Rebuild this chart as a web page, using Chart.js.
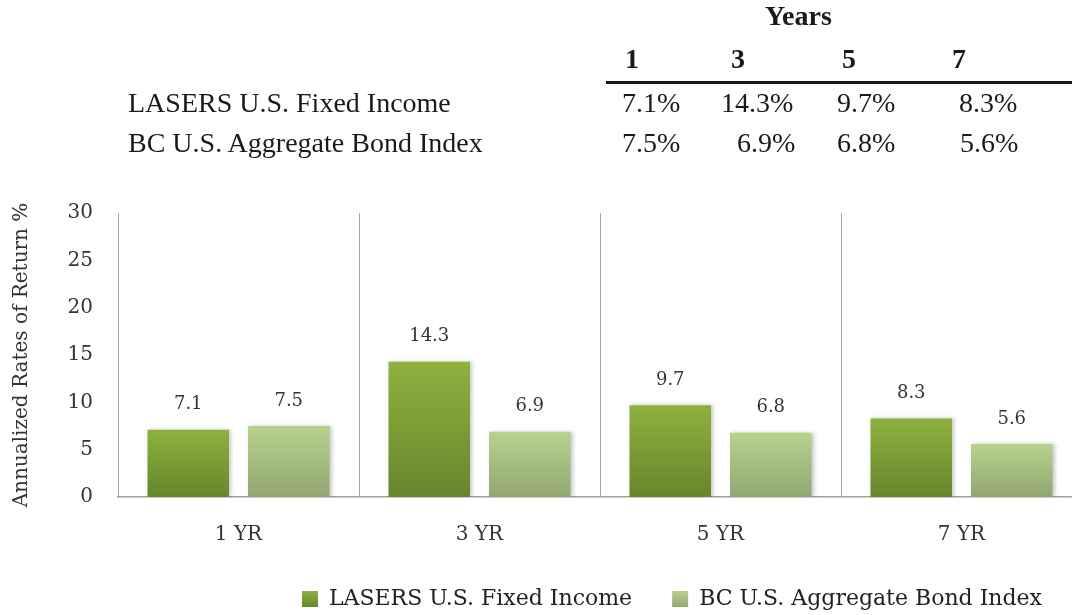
<!DOCTYPE html>
<html>
<head>
<meta charset="utf-8">
<script src="https://cdn.jsdelivr.net/npm/chart.js@4.4.1/dist/chart.umd.min.js"></script>
<style>
  html, body { margin: 0; padding: 0; background: #fff; overflow: hidden; width: 1072px; height: 615px; }
  #wrap { position: absolute; left: 0; top: 0; width: 1082px; height: 620px; }
  #tbl { position: absolute; left: 0; top: 0; width: 1072px; height: 180px; font-family: "Liberation Serif", serif; font-size: 28px; color: #1a1a1a; }
  #tbl .t { position: absolute; line-height: 28px; white-space: nowrap; }
  #tbl .b { font-weight: bold; }
  #rule { position: absolute; left: 606px; top: 81px; width: 466px; height: 3px; background: #1a1a1a; }
</style>
</head>
<body>
<div id="wrap"><canvas id="c" width="1082" height="620"></canvas></div>
<div id="tbl"><div id="rule"></div></div>
<script>
// ---- data ----
const categories = ['1 YR', '3 YR', '5 YR', '7 YR'];
const seriesNames = ['LASERS U.S. Fixed Income', 'BC U.S. Aggregate Bond Index'];
const lasersValues = [7.1, 14.3, 9.7, 8.3];
const bcValues = [7.5, 6.9, 6.8, 5.6];
const tableTitle = 'Years';
const tableYears = ['1', '3', '5', '7'];
const yTicks = [0, 5, 10, 15, 20, 25, 30];
const yTitle = 'Annualized Rates of Return %';

// ---- table (text) ----
const tbl = document.getElementById('tbl');
function addText(txt, left, top, bold) {
  const d = document.createElement('div');
  d.className = 't' + (bold ? ' b' : '');
  d.textContent = txt;
  d.style.left = left + 'px';
  d.style.top = top + 'px';
  tbl.appendChild(d);
}
addText(tableTitle, 765, 2, true);
const yearLeft = [625, 731, 842, 952];
tableYears.forEach((y, i) => addText(y, yearLeft[i], 45, true));
addText(seriesNames[0], 128, 89, false);
addText(seriesNames[1], 128, 129, false);
const row1Left = [622, 721, 837, 959];
const row2Left = [622, 737, 837, 960];
lasersValues.forEach((v, i) => addText(v.toFixed(1) + '%', row1Left[i], 89, false));
bcValues.forEach((v, i) => addText(v.toFixed(1) + '%', row2Left[i], 129, false));

// ---- chart ----
const palette = [
  { top: '#8DB23F', bottom: '#66862C', solid: '#7A9C35' },
  { top: '#B8D28D', bottom: '#91A672', solid: '#A6BD80' }
];

function grad(p) {
  return (ctx) => {
    const ch = ctx.chart;
    if (ctx.type !== 'data' || !ch.chartArea || !ch.scales.y) return p.solid;
    const y = ch.scales.y;
    const yt = y.getPixelForValue(ctx.raw);
    const yb = y.getPixelForValue(0);
    if (!isFinite(yt) || !isFinite(yb) || yt === yb) return p.solid;
    const g = ch.ctx.createLinearGradient(0, yt, 0, yb);
    g.addColorStop(0, p.top);
    g.addColorStop(1, p.bottom);
    return g;
  };
}

const chartFont = '"DejaVu Serif", serif';

const barDecor = {
  id: 'barDecor',
  afterUpdate(chart) {
    const lg = chart.legend;
    if (!lg || !lg.legendItems || !lg.legendHitBoxes) return;
    lg.legendItems.forEach((item, i) => {
      const hb = lg.legendHitBoxes[i];
      const p = palette[item.datasetIndex];
      if (!hb || !p) return;
      const bh = 16;
      const t = hb.top + (hb.height - bh) / 2;
      const g = chart.ctx.createLinearGradient(0, t, 0, t + bh);
      g.addColorStop(0, p.top);
      g.addColorStop(1, p.bottom);
      item.fillStyle = g;
    });
  },
  beforeDatasetsDraw(chart) {
    const c = chart.ctx;
    c.save();
    c.shadowColor = 'rgba(0,0,0,0.22)';
    c.shadowBlur = 4;
    c.shadowOffsetX = 2;
    c.shadowOffsetY = 0;
  },
  afterDatasetsDraw(chart) {
    const c = chart.ctx;
    c.restore();
    c.save();
    c.font = '18px ' + chartFont;
    c.fillStyle = '#333';
    c.textAlign = 'center';
    c.textBaseline = 'middle';
    chart.data.datasets.forEach((ds, i) => {
      const meta = chart.getDatasetMeta(i);
      meta.data.forEach((bar, j) => {
        c.fillText(ds.data[j].toFixed(1), bar.x, bar.y - 25);
      });
    });
    c.restore();
  }
};

new Chart(document.getElementById('c'), {
  type: 'bar',
  data: {
    labels: categories,
    datasets: [
      {
        label: seriesNames[0],
        data: lasersValues,
        backgroundColor: grad(palette[0]),
        borderWidth: 0,
        categoryPercentage: 0.834,
        barPercentage: 0.811
      },
      {
        label: seriesNames[1],
        data: bcValues,
        backgroundColor: grad(palette[1]),
        borderWidth: 0,
        categoryPercentage: 0.834,
        barPercentage: 0.811
      }
    ]
  },
  options: {
    responsive: false,
    animation: false,
    devicePixelRatio: 1,
    layout: { padding: { top: 213, left: 0, right: 0, bottom: 0 } },
    plugins: {
      legend: {
        position: 'bottom',
        align: 'end',
        labels: {
          font: { family: chartFont, size: 22 },
          color: '#222',
          boxWidth: 16,
          boxHeight: 16,
          padding: 40
        }
      },
      tooltip: { enabled: false },
      title: { display: false }
    },
    scales: {
      x: {
        grid: { display: true, offset: true, drawTicks: false, color: '#A6A6A6', lineWidth: 1 },
        border: { display: true, color: '#A0A0A0', width: 1.5 },
        ticks: { font: { family: chartFont, size: 20 }, color: '#333', padding: 26 },
        afterFit(s) { s.height = 51; }
      },
      y: {
        min: 0,
        max: 30,
        afterBuildTicks(s) { s.ticks = yTicks.map(v => ({ value: v })); },
        grid: { display: false, drawTicks: false },
        border: { display: true, color: '#A6A6A6', width: 1 },
        ticks: { font: { family: chartFont, size: 20 }, color: '#333', padding: 25 },
        title: {
          display: true,
          text: yTitle,
          font: { family: chartFont, size: 20 },
          color: '#333',
          padding: { top: 10, bottom: 0 }
        },
        afterFit(s) { s.width = 118; }
      }
    }
  },
  plugins: [barDecor]
});
</script>
</body>
</html>
